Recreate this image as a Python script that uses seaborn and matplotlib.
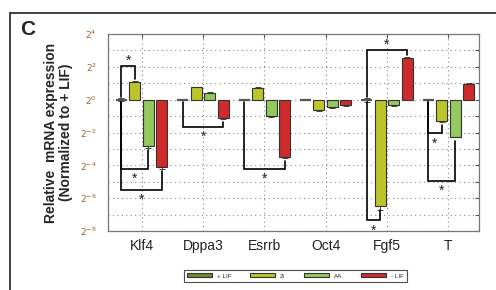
import numpy as np
import pandas as pd
import matplotlib
matplotlib.use('Agg')
import matplotlib.pyplot as plt
import seaborn as sns

sns.set_style('white')
plt.rcParams['font.family'] = ['Liberation Sans', 'DejaVu Sans']

# log2 expression, normalized to + LIF
genes = ['Klf4', 'Dppa3', 'Esrrb', 'Oct4', 'Fgf5', 'T']
conditions = ['+ LIF', '2i', 'AA', '- LIF']
plus_lif = [0, 0, 0, 0, 0, 0]
two_i = [1.1, 0.75, 0.7, -0.65, -6.5, -1.3]
aa = [-2.8, 0.4, -1.0, -0.45, -0.3, -2.25]
minus_lif = [-4.1, -1.1, -3.5, -0.35, 2.55, 0.95]
err_plus = [0.1, 0.05, 0.05, 0.05, 0.12, 0.05]
err_2i = [0.05, 0.05, 0.05, 0.05, 0.2, 0.05]
err_aa = [0.15, 0.05, 0.05, 0.05, 0.1, 0.05]
err_minus = [0.12, 0.05, 0.05, 0.05, 0.05, 0.05]
colors = ['#6f8b2c', '#bcc62a', '#93c95f', '#cf2b2b']

# significance brackets: gene, condition a, condition b, bracket level
brackets = [
    ('Klf4', '+ LIF', '2i', 2.05),
    ('Klf4', '+ LIF', 'AA', -4.2),
    ('Klf4', '+ LIF', '- LIF', -5.5),
    ('Dppa3', '+ LIF', '- LIF', -1.65),
    ('Esrrb', '+ LIF', '- LIF', -4.2),
    ('Fgf5', '+ LIF', '- LIF', 3.05),
    ('Fgf5', '+ LIF', '2i', -7.35),
    ('T', '+ LIF', '2i', -2.05),
    ('T', '+ LIF', 'AA', -4.95),
]

vals = {'+ LIF': plus_lif, '2i': two_i, 'AA': aa, '- LIF': minus_lif}
errs = {'+ LIF': err_plus, '2i': err_2i, 'AA': err_aa, '- LIF': err_minus}
rows = []
for c in conditions:
    for g, v in zip(genes, vals[c]):
        rows.append({'gene': g, 'condition': c, 'value': v})
df = pd.DataFrame(rows)

fig = plt.figure(figsize=(4.96, 2.9), dpi=100)
ax = fig.add_axes([0.2177, 0.2034, 0.748, 0.6794])

sns.barplot(data=df, x='gene', y='value', hue='condition', order=genes,
            hue_order=conditions, palette=colors, saturation=1, width=0.88,
            gap=0.18, edgecolor='#333333', linewidth=0.8, errorbar=None,
            ax=ax, zorder=3)

# bar centres from seaborn's own layout
centres = {}
for c, cont in zip(conditions, ax.containers):
    for g, bar in zip(genes, cont):
        centres[(g, c)] = bar.get_x() + bar.get_width() / 2
        if c == '+ LIF':
            bar.set_edgecolor('#555555')
            bar.set_linewidth(1.6)
    xs = [centres[(g, c)] for g in genes]
    ax.errorbar(xs, vals[c], yerr=errs[c], fmt='none', ecolor='#444444',
                elinewidth=0.7, capsize=2.5, capthick=0.7, zorder=2)

# brackets
for g, a, b, lvl in brackets:
    i = genes.index(g)
    xa, xb = centres[(g, a)], centres[(g, b)]
    ya = vals[a][i]
    yb = vals[b][i]
    if lvl > 0:
        ya0, yb0 = ya + 0.15, yb + 0.15
        ys = lvl + 0.3
    else:
        ya0, yb0 = ya - 0.15, yb - 0.25
        ys = lvl - 0.62
    ax.plot([xa, xa, xb, xb], [ya0, lvl, lvl, yb0], color='black', lw=1.2,
            zorder=4, solid_joinstyle='miter')
    ax.text((xa + xb) / 2, ys, '*', ha='center', va='center', fontsize=10,
            color='#222222', zorder=5)

ax.set_xlim(-0.55, 5.5)
ax.set_ylim(-8, 4)
yt = np.arange(-8, 5)
ax.set_yticks(yt)
ax.set_yticklabels(['$2^{%d}$' % t if t % 2 == 0 else '' for t in yt],
                   fontsize=6.5, color='#a0642a')
ax.tick_params(axis='y', direction='in', length=3, right=True, width=0.8,
               color='#555555', pad=8)
ax.tick_params(axis='x', direction='in', length=3, top=True, width=0.8,
               color='#555555', labelsize=10, labelcolor='#222222', pad=6)
ax.grid(True, linestyle=(0, (1, 3)), color='#888888', linewidth=0.8)
ax.set_axisbelow(True)
for s in ax.spines.values():
    s.set_color('#777777')
    s.set_linewidth(0.9)
ax.set_xlabel('')
ax.set_ylabel('Relative  mRNA expression\n(Normalized to + LIF)',
              fontsize=10, fontweight='bold', labelpad=5, linespacing=1.1)

ax.legend(loc='center', bbox_to_anchor=(0.595, 0.048),
          bbox_transform=fig.transFigure, ncol=4, fontsize=4.5,
          frameon=True, fancybox=False, edgecolor='#222222',
          handlelength=4, handleheight=0.6, columnspacing=3,
          borderpad=0.5, handletextpad=0.8)
ax.get_legend().get_frame().set_linewidth(0.8)

# panel frame and label
fig.add_artist(plt.Line2D([0.02, 1.0], [0.955, 0.955], color='#222222',
                          lw=1.2, transform=fig.transFigure))
fig.add_artist(plt.Line2D([0.02, 0.02], [0.0, 0.955], color='#222222',
                          lw=1.2, transform=fig.transFigure))
fig.text(0.04, 0.88, 'C', fontsize=15, fontweight='bold')

fig.savefig('out.png', dpi=100)
